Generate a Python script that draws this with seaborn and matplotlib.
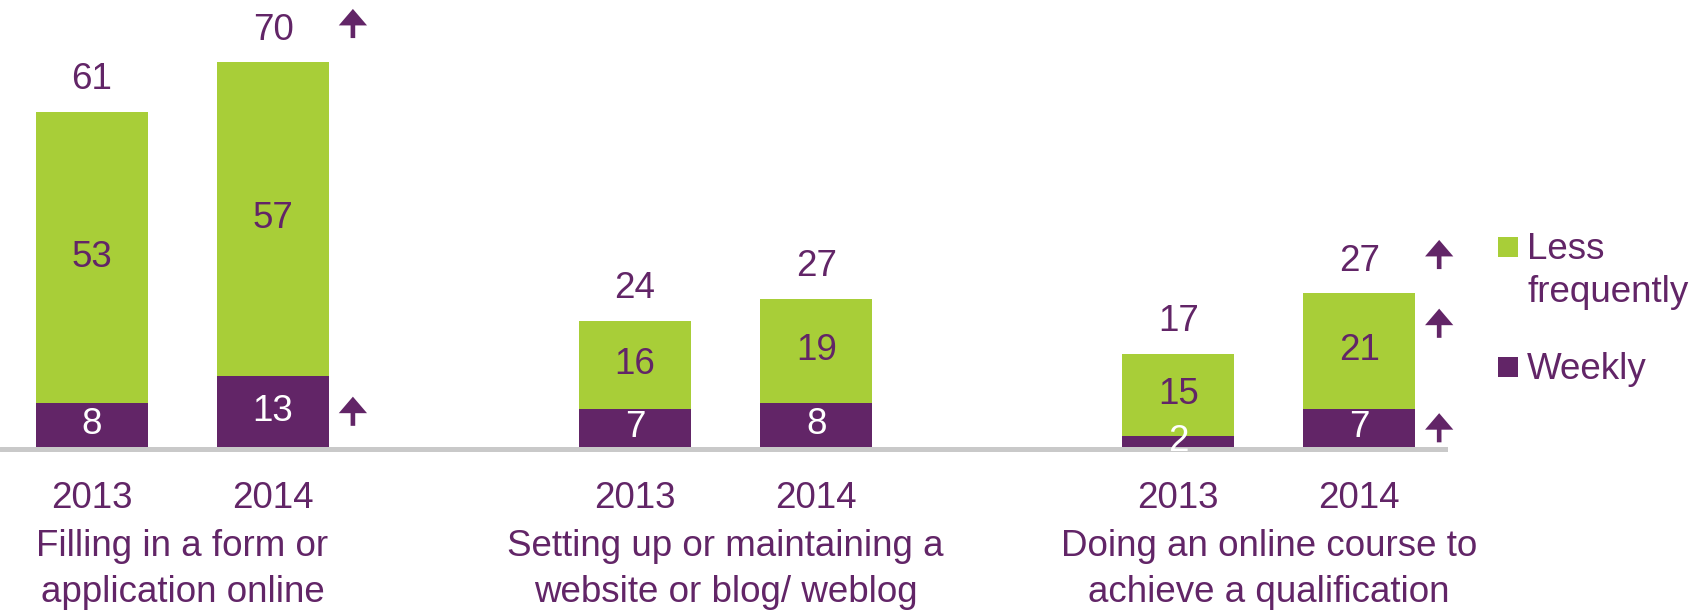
import matplotlib
matplotlib.use("Agg")
import matplotlib.pyplot as plt
from matplotlib.patches import FancyArrow, Rectangle
import seaborn as sns
import pandas as pd

# Share of people doing each activity online, split by frequency
categories = [
    "Filling in a form or\napplication online",
    "Setting up or maintaining a\nwebsite or blog/ weblog",
    "Doing an online course to\nachieve a qualification",
]
years = ["2013", "2014"]
weekly = [8, 13, 7, 8, 2, 7]
less_frequently = [53, 57, 16, 19, 15, 21]
totals = [61, 70, 24, 27, 17, 27]
# Significant increases on the previous year: (category index, year, part)
increases = [(0, "2014", "total"), (0, "2014", "weekly"),
             (2, "2014", "total"), (2, "2014", "less"), (2, "2014", "weekly")]

GREEN = "#A8CE38"
PURPLE = "#622567"
GREY = "#C9C9C9"
FS = 26.5

sns.set_style("white")
plt.rcParams["font.family"] = ["Liberation Sans", "DejaVu Sans"]

df = pd.DataFrame({
    "category": [c for c in categories for _ in years],
    "year": years * len(categories),
    "weekly": weekly,
    "less": less_frequently,
    "total": totals,
})
df["stack"] = df["weekly"] + df["less"]

fig = plt.figure(figsize=(17, 6.13), dpi=100)
ax = fig.add_axes([0, 155 / 613, 1448 / 1700, 451 / 613])

common = dict(x="category", hue="year", order=categories, hue_order=years,
              width=0.667, gap=0.38, saturation=1, errorbar=None,
              legend=False, ax=ax, linewidth=0)
sns.barplot(data=df, y="stack", palette=[GREEN, GREEN], **common)
sns.barplot(data=df, y="weekly", palette=[PURPLE, PURPLE], **common)

ax.set_xlim(-0.336, 2.33)
ax.set_ylim(-2, 80)
ax.axhline(-0.45, color=GREY, lw=3.6, zorder=0.5)
for s in ax.spines.values():
    s.set_visible(False)
ax.set_xticks([])
ax.set_yticks([])
ax.set_xlabel("")
ax.set_ylabel("")

label_pos = {}
for k, yr in enumerate(years):
    for gb in ax.containers[k]:
        xc = gb.get_x() + gb.get_width() / 2
        i = int(round(xc))
        row = df[(df["category"] == categories[i]) & (df["year"] == yr)].iloc[0]
        w, l, t = row["weekly"], row["less"], row["total"]
        ax.text(xc, w / 2, f"{w}", ha="center", va="center", color="white",
                fontsize=FS, zorder=5)
        ax.text(xc, w + l / 2, f"{l}", ha="center", va="center", color=PURPLE,
                fontsize=FS, zorder=5)
        ax.annotate(f"{t}", xy=(xc, w + l), xytext=(0, 23), textcoords="offset points",
                    ha="center", va="center", color=PURPLE, fontsize=FS)
        ax.annotate(yr, xy=(xc, 0), xytext=(0, -37), textcoords="offset points",
                    ha="center", va="center", color=PURPLE, fontsize=FS)
        # anchor heights for the increase arrows beside this bar
        label_pos[(i, yr)] = (xc, {"weekly": w / 2, "less": w + l / 2 + 5,
                                   "total": w + l + 7.0})

for i, cat in enumerate(categories):
    ax.annotate(cat, xy=(i, 0), xytext=(0, -88), textcoords="offset points",
                ha="center", va="center", color=PURPLE, fontsize=FS,
                linespacing=1.4)

# Upward arrows next to the bars marking significant increases
for i, yr, part in increases:
    xc, ys = label_pos[(i, yr)]
    yc = ys[part]
    arrow = FancyArrow(xc + 0.147, yc - 2.65, 0, 5.3, width=0.0085,
                       head_width=0.052, head_length=3.0,
                       length_includes_head=True, color=PURPLE,
                       clip_on=False, lw=0)
    ax.add_patch(arrow)

# Legend
def px(x, y):
    return x / 1700, 1 - y / 613

for (top, label_lines, color) in [(237, ["Less", "frequently"], GREEN),
                                  (357, ["Weekly"], PURPLE)]:
    x0, y0 = px(1498, top + 20)
    fig.add_artist(Rectangle((x0, y0), 20 / 1700, 20 / 613,
                             transform=fig.transFigure, color=color, lw=0))
    for k, line in enumerate(label_lines):
        tx, ty = px(1527, top + 22 + 43 * k)
        fig.text(tx, ty, line, ha="left", va="baseline", color=PURPLE, fontsize=FS)

fig.savefig("out.png", dpi=100)
